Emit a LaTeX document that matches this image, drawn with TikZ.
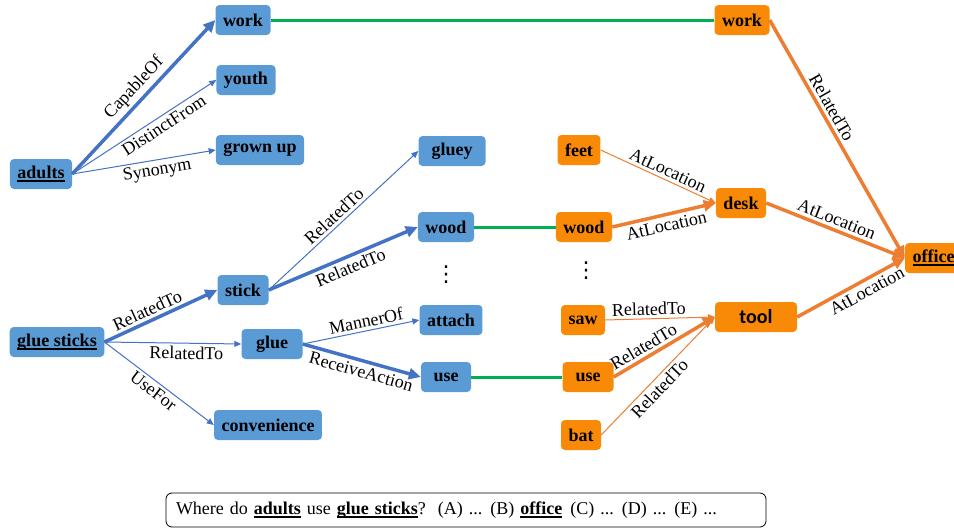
\documentclass[tikz,border=0pt]{standalone}
\usepackage{fontspec}
\setmainfont{Liberation Serif}
\newfontfamily\calibri{Carlito}
\newfontfamily\dejavu{DejaVu Sans}
\usepackage{tikz}
\usetikzlibrary{arrows.meta}
\definecolor{nodeblue}{RGB}{91,155,213}
\definecolor{edgeblue}{RGB}{68,114,196}
\definecolor{nodeorange}{RGB}{248,138,8}
\definecolor{edgeorange}{RGB}{237,125,49}
\definecolor{linkgreen}{RGB}{0,176,80}
\newcommand{\ulbox}[1]{\setbox0=\hbox{#1}\rlap{\rule[-3.5pt]{\wd0}{2pt}}\box0\relax}

\begin{document}
\begin{tikzpicture}[x=1pt,y=-1pt,
  bnode/.style={fill=nodeblue,rounded corners=4pt,minimum height=30pt,inner xsep=7.5pt,inner ysep=0pt,font=\fontsize{18}{20}\selectfont\bfseries},
  onode/.style={bnode,fill=nodeorange},
  lbl/.style={font=\fontsize{18}{20}\selectfont,sloped,inner sep=3pt},
  moredots/.style={font=\dejavu\fontsize{22}{24}\selectfont,inner sep=0pt},
  thinb/.style={draw=edgeblue,line width=1pt,-{Triangle[length=7pt,width=6pt]}},
  thickb/.style={draw=edgeblue,line width=3.5pt,-{Triangle[length=12pt,width=11pt]}},
  thino/.style={draw=edgeorange,line width=1pt,-{Triangle[length=7pt,width=6pt]}},
  thicko/.style={draw=edgeorange,line width=3.5pt,-{Triangle[length=12pt,width=11pt]}},
  link/.style={draw=linkgreen,line width=3pt}]
  \path[use as bounding box,clip] (0,0) rectangle (954,530);

  \node[bnode] (adults) at (41,174) {\ulbox{adults}};
  \node[bnode] (bwork) at (243,20) {work};
  \node[bnode] (youth) at (246,80) {youth};
  \node[bnode] (grownup) at (260,150) {grown up};
  \node[bnode,minimum width=67pt] (gluey) at (452,151) {gluey};
  \node[bnode] (bwood) at (446,227) {wood};
  \node[moredots] (bdots) at (446,275) {⋮};
  \node[bnode] (stick) at (243,290) {stick};
  \node[bnode] (attach) at (451,320) {attach};
  \node[bnode] (gluesticks) at (57,342) {\ulbox{glue sticks}};
  \node[bnode,minimum width=61pt] (glue) at (272,344) {glue};
  \node[bnode,minimum width=50pt] (buse) at (446,377) {use};
  \node[bnode] (convenience) at (268,425) {convenience};

  \node[onode] (owork) at (742,20) {work};
  \node[onode] (feet) at (579,150) {feet};
  \node[onode] (owood) at (584,227) {wood};
  \node[onode] (desk) at (741,203) {desk};
  \node[moredots] (odots) at (586,271) {⋮};
  \node[onode] (office) at (933.5,258) {\ulbox{office}};
  \node[onode] (saw) at (583,320) {saw};
  \node[onode,minimum width=82pt,font=\calibri\fontsize{20}{22}\selectfont\bfseries] (tool) at (756,317) {tool};
  \node[onode,minimum width=51pt] (ouse) at (588,377) {use};
  \node[onode] (bat) at (581,435) {bat};

  \draw[thickb] (adults.east) -- (bwork.west) node[lbl,midway,above] {CapableOf};
  \draw[thinb] (adults.east) -- (youth.west) node[lbl,pos=0.6,below] {DistinctFrom};
  \draw[thinb] (adults.east) -- (grownup.west) node[lbl,pos=0.58,below] {Synonym};
  \draw[thickb] (gluesticks.east) -- (stick.west) node[lbl,pos=0.42,above] {RelatedTo};
  \draw[thinb] (gluesticks.east) -- (glue.west) node[lbl,pos=0.6,below] {RelatedTo};
  \draw[thinb] (gluesticks.east) -- (convenience.west) node[lbl,pos=0.5,below] {UseFor};
  \draw[thinb] (stick.east) -- (gluey.west) node[lbl,pos=0.48,above] {RelatedTo};
  \draw[thickb] (stick.east) -- (bwood.west) node[lbl,pos=0.52,below] {RelatedTo};
  \draw[thinb] (glue.east) -- (attach.west) node[lbl,pos=0.56,above] {MannerOf};
  \draw[thickb] (glue.east) -- (buse.west) node[lbl,pos=0.52,below] {ReceiveAction};

  \draw[link] (bwork) -- (owork);
  \draw[link] (bwood) -- (owood);
  \draw[link] (buse) -- (ouse);

  \draw[thicko] (owork.east) -- (office.west) node[lbl,pos=0.39,above] {RelatedTo};
  \draw[thino] (feet.east) -- (desk.west) node[lbl,pos=0.55,above] {AtLocation};
  \draw[thicko] (owood.east) -- (desk.west) node[lbl,midway,below] {AtLocation};
  \draw[thicko] (desk.east) -- (office.west) node[lbl,pos=0.48,above] {AtLocation};
  \draw[thino] (saw.east) -- (tool.west) node[lbl,pos=0.4,above] {RelatedTo};
  \draw[thicko] (ouse.east) -- (tool.west) node[lbl,pos=0.35,above] {RelatedTo};
  \draw[thino] (bat.east) -- (tool.west) node[lbl,pos=0.45,below] {RelatedTo};
  \draw[thicko] (tool.east) -- (office.west) node[lbl,pos=0.6,below] {AtLocation};

  \node[draw,rounded corners=6pt,line width=0.8pt,minimum height=34pt,inner xsep=10pt,text width=580pt,align=left,font=\fontsize{18}{20}\selectfont] (question) at (466,510)
    {Where do \ulbox{\textbf{adults}} use \ulbox{\textbf{glue sticks}}?\hspace{12pt}(A) ...\hspace{8pt}(B) \ulbox{\textbf{office}}\hspace{8pt}(C) ...\hspace{8pt}(D) ...\hspace{8pt}(E) ...};
\end{tikzpicture}
\end{document}
